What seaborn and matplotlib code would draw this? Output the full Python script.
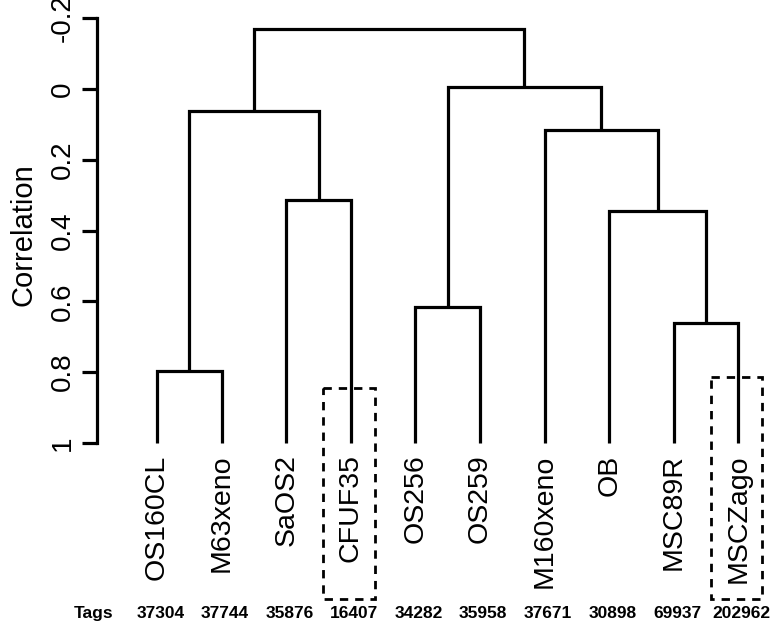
import matplotlib
matplotlib.use("Agg")
import matplotlib.pyplot as plt
import seaborn as sns
import pandas as pd
from matplotlib.patches import Rectangle

# ---- data ----
leaf_labels = ["OS160CL", "M63xeno", "SaOS2", "CFUF35", "OS256",
               "OS259", "M160xeno", "OB", "MSC89R", "MSCZago"]
tags = ["37304", "37744", "35876", "16407", "34282",
        "35958", "37671", "30898", "69937", "202962"]
# merges: (left, right, height in correlation); ids >= 10 refer to earlier merges
merge_left = [0, 2, 10, 4, 8, 7, 6, 13, 12]
merge_right = [1, 3, 11, 5, 9, 14, 15, 16, 17]
merge_height = [0.797, 0.315, 0.062, 0.617, 0.662, 0.346, 0.115, -0.005, -0.169]
leaf_height = 1.0
highlighted = ["CFUF35", "MSCZago"]
yticks = [-0.2, 0, 0.2, 0.4, 0.6, 0.8, 1]
ytick_labels = ["-0.2", "0", "0.2", "0.4", "0.6", "0.8", "1"]

# ---- build dendrogram segments ----
pos = {i: float(i) for i in range(len(leaf_labels))}
hgt = {i: leaf_height for i in range(len(leaf_labels))}
rows = []
seg = 0
for k, (l, r, h) in enumerate(zip(merge_left, merge_right, merge_height)):
    nid = len(leaf_labels) + k
    for (xx, yy) in [(pos[l], hgt[l]), (pos[l], h), (pos[r], h), (pos[r], hgt[r])]:
        rows.append({"x": xx, "y": yy, "seg": seg})
    seg += 1
    pos[nid] = (pos[l] + pos[r]) / 2
    hgt[nid] = h
df = pd.DataFrame(rows)

sns.set_theme(style="white")
plt.rcParams['font.family'] = ['Liberation Sans', 'DejaVu Sans']

fig = plt.figure(figsize=(7.74, 6.27), dpi=100)
ax = fig.add_axes([97/774, (627-460)/627, 677/774, 450/627])

sns.lineplot(data=df, x="x", y="y", units="seg", estimator=None, sort=False,
             color="black", linewidth=2.3, ax=ax, legend=False)
for line in ax.lines:
    line.set_solid_joinstyle("miter")
    line.set_solid_capstyle("butt")

ax.set_xlim(-0.929, 9.551)
ax.set_ylim(1.048, -0.2226)

for s in ["top", "right", "bottom"]:
    ax.spines[s].set_visible(False)
ax.spines["left"].set_bounds(-0.2, 1)
ax.spines["left"].set_linewidth(2.3)
ax.spines["left"].set_color("black")
ax.set_xticks([])
ax.set_yticks(yticks)
ax.set_yticklabels(ytick_labels, rotation=90, va="center", fontsize=20)
ax.tick_params(axis="y", length=11, width=2.3, color="black", pad=4,
               left=True, labelcolor="black")
ax.set_xlabel("")
ax.set_ylabel("Correlation", fontsize=21, labelpad=9, color="black")

# leaf labels
for i, lab in enumerate(leaf_labels):
    ax.text(i, 1.032, lab, rotation=90, ha="center", va="top", fontsize=20.5,
            clip_on=False, color="black")
# tags row
ax.text(-0.98, 1.482, "Tags", ha="center", va="center", fontsize=12.5,
        fontweight="bold", clip_on=False, color="black")
for i, t in enumerate(tags):
    ax.text(i + 0.05, 1.482, t, ha="center", va="center", fontsize=12.5,
            fontweight="bold", clip_on=False, color="black")

# dashed highlight boxes
box_tops = {"CFUF35": 0.845, "MSCZago": 0.814}
for lab in highlighted:
    i = leaf_labels.index(lab)
    top = box_tops[lab]
    rect = Rectangle((i - 0.43, top), 0.80, 1.44 - top, fill=False,
                     edgecolor="black", linestyle=(0, (3, 2.5)), linewidth=2.0,
                     clip_on=False)
    ax.add_patch(rect)

fig.savefig("out.png", dpi=100)
